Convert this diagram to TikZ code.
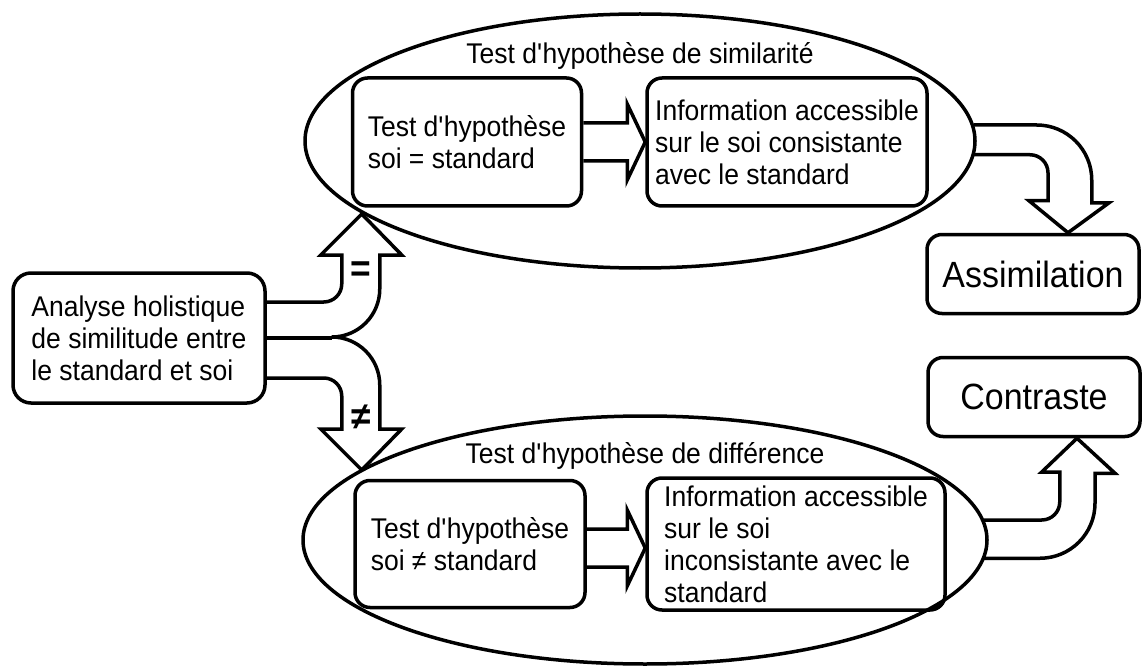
\documentclass[tikz,border=0pt]{standalone}
\usepackage{fontspec}
\setmainfont{Liberation Sans}[FakeStretch=0.93]
\usepackage{tikz}
\usetikzlibrary{calc}
\usetikzlibrary{shapes.geometric}
\newcommand{\ap}{\textquotesingle}
\tikzstyle{box} = [rectangle, 
rounded corners=15pt, 
draw=black, line width=3.5pt, 
inner sep=0pt, align=left, 
font=\fontsize{28.5}{32}\selectfont]
\tikzstyle{result} = [rectangle, 
rounded corners=15pt, 
draw=black, line width=3.5pt, 
inner sep=0pt, minimum width=212pt, minimum height=79pt, 
font=\fontsize{36.5}{40}\selectfont]
\tikzstyle{bubble} = [ellipse, draw=black, line width=3.5pt, inner sep=0pt]
\tikzstyle{heading} = [font=\fontsize{28.5}{32}\selectfont]
\tikzstyle{relsign} = [font=\fontsize{38}{40}\selectfont\bfseries]
\tikzstyle{fat} = [line width=3.5pt]

\begin{document}
\begin{tikzpicture}[x=1pt, y=-1pt]
    \useasboundingbox (0,0) rectangle (1144,666);

    % draw similarity test
    \node[bubble, minimum width=670pt, minimum height=254pt] (simell) at (640,141) {};
    \node[heading] (simtitle) at (640,56) {Test d\ap hypothèse de similarité};
    \node[box, minimum width=229pt, minimum height=128pt] (simtest) at (467,142) {Test d\ap hypothèse\\soi = standard};
    \node[box, minimum width=280pt, minimum height=128pt] (siminfo) at (787,142) {Information accessible\\sur le soi consistante\\avec le standard};
    \draw[fat] ($(simtest.east)+(0,-19)$) -| ($(siminfo.west)+(-18,-38)$) -- (siminfo.west) -- ($(siminfo.west)+(-18,38)$) |- ($(simtest.east)+(0,19)$);

    % draw difference test
    \node[bubble, minimum width=684pt, minimum height=248pt] (difell) at (645,540) {};
    \node[heading] (diftitle) at (645,456) {Test d\ap hypothèse de différence};
    \node[box, minimum width=230pt, minimum height=127pt] (diftest) at (470,544) {Test d\ap hypothèse\\soi ≠ standard};
    \node[box, minimum width=298pt, minimum height=132pt] (difinfo) at (796,544) {Information accessible\\sur le soi\\inconsistante avec le\\standard};
    \draw[fat] ($(diftest.east)+(0,-15)$) -| ($(difinfo.west)+(-18,-34)$) -- ($(difinfo.west)+(0,4)$) -- ($(difinfo.west)+(-18,42)$) |- ($(diftest.east)+(0,23)$);

    % draw results
    \node[result] (assim) at (1033,274) {Assimilation};
    \node[result] (contr) at (1034,397) {Contraste};
    \draw[fat] ($(simell.east)+(-3,-16)$) -- ++(63,0) arc[start angle=90, end angle=0, radius=55pt] -- ++(0,23) -- ++(17,0) -- ($(assim.north)+(35,0)$) -- ++(-39,-32) -- ++(19,0) -- ++(0,-28) arc[start angle=0, end angle=90, radius=18pt] -- ++(-58,0);
    \draw[fat] ($(difell.east)+(-5,-20)$) -- ++(58,0) arc[start angle=-90, end angle=0, radius=18pt] -- ++(0,-30) -- ++(-18,0) -- ($(contr.south)+(43,0)$) -- ++(38,35) -- ++(-20,0) -- ++(0,30) arc[start angle=0, end angle=-90, radius=55pt] -- ++(-56,0);

    % draw holistic analysis
    \node[box, rounded corners=18pt, minimum width=252pt, minimum height=130pt] (analyse) at (139,338) {Analyse holistique\\de similitude entre\\le standard et soi};
    \draw[fat] ($(analyse.east)+(0,-36)$) -- ++(57,0) arc[start angle=-90, end angle=0, radius=18pt] -- ++(0,-29) -- ++(-21,0) -- ++(41,-41) -- ++(40,41) -- ++(-22,0) -- ++(0,34) arc[start angle=0, end angle=-90, radius=48pt] arc[start angle=90, end angle=0, radius=48pt] -- ++(0,44) -- ++(22,0) -- ++(-40,41) -- ++(-41,-41) -- ++(21,0) -- ++(0,-33) arc[start angle=0, end angle=90, radius=18pt] -- ++(-57,0);
    \draw[fat] (analyse.east) -- ++(65,0);
    \node[relsign] (eqsign) at (361,272) {=};
    \node[relsign] (neqsign) at (361,417) {≠};

\end{tikzpicture}
\end{document}
